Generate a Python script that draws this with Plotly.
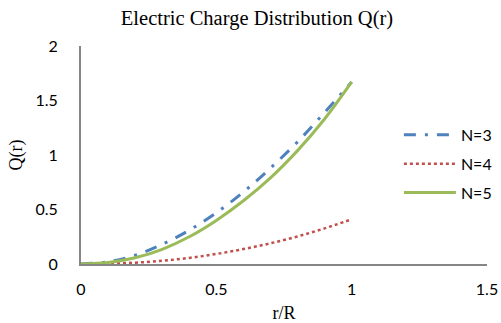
import plotly.graph_objects as go

# Radial positions (r/R)
r_over_R = [0.0, 0.1, 0.2, 0.3, 0.4, 0.5, 0.6, 0.7, 0.8, 0.9, 1.0]

# Charge Q(r) for each N
q_n3 = [0.0, 0.02, 0.08, 0.18, 0.31, 0.47, 0.66, 0.88, 1.12, 1.39, 1.67]
q_n4 = [0.0, 0.003, 0.012, 0.030, 0.056, 0.092, 0.137, 0.190, 0.253, 0.327, 0.41]
q_n5 = [0.0, 0.013, 0.057, 0.135, 0.25, 0.40, 0.58, 0.79, 1.04, 1.33, 1.67]

series_names = ["N=3", "N=4", "N=5"]
x_ticks = [0, 0.5, 1, 1.5]
y_ticks = [0, 0.5, 1, 1.5, 2]

fig = go.Figure()
fig.add_trace(go.Scatter(
    x=r_over_R, y=q_n3, name=series_names[0], mode="lines", line_shape="spline",
    legendgroup="g3",
    line=dict(color="#4F81BD", width=3, dash="12px,9px,3px,9px"),
))
fig.add_trace(go.Scatter(
    x=r_over_R, y=q_n4, name=series_names[1], mode="lines", line_shape="spline",
    legendgroup="g4",
    line=dict(color="#C0504D", width=2.5, dash="dot"),
))
fig.add_trace(go.Scatter(
    x=r_over_R, y=q_n5, name=series_names[2], mode="lines", line_shape="spline",
    legendgroup="g5",
    line=dict(color="#9BBB59", width=3),
))

sans = "Lato, 'Liberation Sans', sans-serif"
serif = "'Liberation Serif', 'Times New Roman', serif"

fig.update_layout(
    width=501, height=323,
    margin=dict(l=81, r=14, t=46, b=59, autoexpand=False),
    paper_bgcolor="white", plot_bgcolor="white",
    title=dict(text="Electric Charge Distribution Q(r)", x=0.513, xanchor="center",
               y=0.945, yanchor="middle",
               font=dict(family=serif, size=20.5, color="#000000")),
    xaxis=dict(
        range=[0, 1.5], tickvals=x_ticks, ticktext=[str(v) for v in x_ticks],
        showline=True, linecolor="#868686", linewidth=2, showgrid=False, zeroline=False,
        ticks="", ticklabelstandoff=10, automargin=False,
        tickfont=dict(family=sans, size=16, color="#000000"),
        title=dict(text="r/R", standoff=14, font=dict(family=serif, size=18, color="#000000")),
    ),
    yaxis=dict(
        range=[0, 2], tickvals=y_ticks, ticktext=[str(v) for v in y_ticks],
        showline=True, linecolor="#868686", linewidth=2, showgrid=False, zeroline=False,
        ticks="", ticklabelstandoff=18, automargin=False,
        tickfont=dict(family=sans, size=16, color="#000000"),
        title=dict(text="Q(r)", standoff=8, font=dict(family=serif, size=18, color="#000000")),
    ),
    legend=dict(
        x=0.783, y=0.67, xanchor="left", yanchor="top",
        bgcolor="rgba(0,0,0,0)", font=dict(family=sans, size=16, color="#000000"),
        itemwidth=52, tracegroupgap=5,
    ),
)

fig.write_html("out.html")
